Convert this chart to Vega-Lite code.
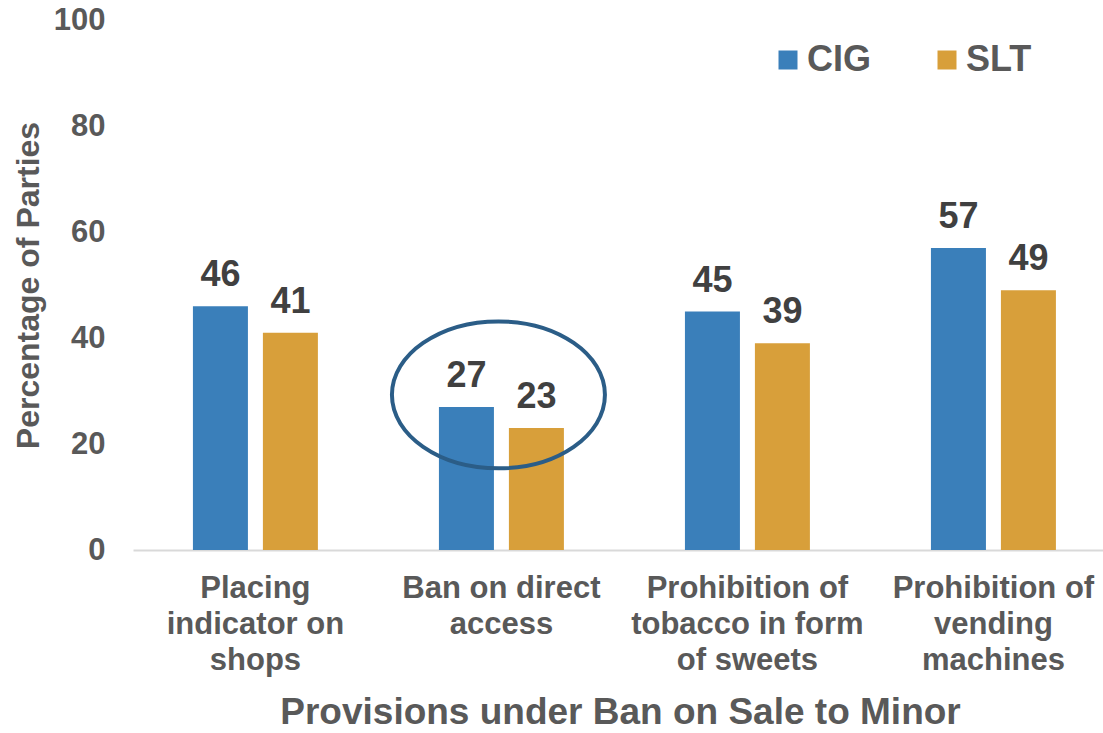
{
  "$schema": "https://vega.github.io/schema/vega-lite/v6.json",
  "width": 970,
  "height": 530,
  "autosize": {"type": "none"},
  "padding": {"left": 133, "top": 20, "right": 0, "bottom": 183},
  "background": "white",
  "config": {"view": {"stroke": null}, "font": "Liberation Sans"},
  "data": {
    "values": [
      {"provision": "Placing indicator on shops", "product": "CIG", "value": 46},
      {"provision": "Placing indicator on shops", "product": "SLT", "value": 41},
      {"provision": "Ban on direct access", "product": "CIG", "value": 27},
      {"provision": "Ban on direct access", "product": "SLT", "value": 23},
      {"provision": "Prohibition of tobacco in form of sweets", "product": "CIG", "value": 45},
      {"provision": "Prohibition of tobacco in form of sweets", "product": "SLT", "value": 39},
      {"provision": "Prohibition of vending machines", "product": "CIG", "value": 57},
      {"provision": "Prohibition of vending machines", "product": "SLT", "value": 49}
    ]
  },
  "encoding": {
    "x": {
      "field": "provision",
      "type": "nominal",
      "sort": ["Placing indicator on shops", "Ban on direct access", "Prohibition of tobacco in form of sweets", "Prohibition of vending machines"],
      "scale": {"paddingInner": 0.492, "paddingOuter": 0.2175, "align": 0.56},
      "axis": {
        "title": "Provisions under Ban on Sale to Minor",
        "titleFontSize": 37,
        "titleFontWeight": "bold",
        "titleColor": "#595959",
        "titleX": 487,
        "titleY": 173,
        "titleBaseline": "alphabetic",
        "labelExpr": "datum.value == 'Placing indicator on shops' ? ['Placing', 'indicator on', 'shops'] : datum.value == 'Ban on direct access' ? ['Ban on direct', 'access'] : datum.value == 'Prohibition of tobacco in form of sweets' ? ['Prohibition of', 'tobacco in form', 'of sweets'] : ['Prohibition of', 'vending', 'machines']",
        "labelFontSize": 31,
        "labelFontWeight": "bold",
        "labelColor": "#595959",
        "labelLineHeight": 36,
        "labelPadding": 23,
        "labelLimit": 400,
        "labelAngle": 0,
        "labelOverlap": false,
        "labelBound": false,
        "ticks": false,
        "domainColor": "#d9d9d9",
        "domainWidth": 2,
        "grid": false
      }
    },
    "y": {
      "field": "value",
      "type": "quantitative",
      "scale": {"domain": [0, 100], "nice": false},
      "axis": {
        "values": [0, 20, 40, 60, 80, 100],
        "grid": false,
        "domain": false,
        "ticks": false,
        "labelPadding": 28,
        "labelFontSize": 31,
        "labelFontWeight": "bold",
        "labelColor": "#595959",
        "title": "Percentage of Parties",
        "titleFontSize": 32,
        "titleFontWeight": "bold",
        "titleColor": "#595959",
        "titleAngle": 270,
        "titleX": -95,
        "titleY": 265,
        "titleAlign": "center",
        "titleBaseline": "alphabetic"
      }
    }
  },
  "layer": [
    {
      "mark": {"type": "bar"},
      "encoding": {
        "xOffset": {"field": "product", "type": "nominal", "scale": {"paddingInner": 0.214, "paddingOuter": 0}},
        "color": {
          "field": "product",
          "type": "nominal",
          "scale": {"domain": ["CIG", "SLT"], "range": ["#3a7fba", "#d89f3a"]},
          "legend": {
            "title": null,
            "orient": "none",
            "legendX": 637,
            "legendY": 22,
            "direction": "horizontal",
            "symbolType": "square",
            "symbolSize": 361,
            "symbolStrokeWidth": 0,
            "labelFontSize": 36,
            "labelFontWeight": "bold",
            "labelColor": "#595959",
            "labelOffset": 1,
            "columnPadding": 57,
            "padding": 0
          }
        }
      }
    },
    {
      "mark": {"type": "text", "dy": -20, "baseline": "alphabetic", "align": "center", "fontSize": 36, "fontWeight": "bold", "color": "#404040"},
      "encoding": {
        "xOffset": {"field": "product", "type": "nominal", "scale": {"paddingInner": 0.214, "paddingOuter": 0}},
        "text": {"field": "value", "type": "quantitative"}
      }
    },
    {
      "transform": [
        {"filter": "datum.provision == 'Ban on direct access'"},
        {"aggregate": [{"op": "max", "field": "value", "as": "value"}], "groupby": ["provision"]}
      ],
      "mark": {
        "type": "point",
        "shape": "M0.972,-0.113 C0.972,0.2681 0.5243,0.577 -0.028,0.577 C-0.5803,0.577 -1.028,0.2681 -1.028,-0.113 C-1.028,-0.4941 -0.5803,-0.803 -0.028,-0.803 C0.5243,-0.803 0.972,-0.4941 0.972,-0.113 Z",
        "size": 45369,
        "filled": false,
        "stroke": "#2b5d87",
        "strokeWidth": 4,
        "opacity": 1
      },
      "encoding": {}
    }
  ]
}
